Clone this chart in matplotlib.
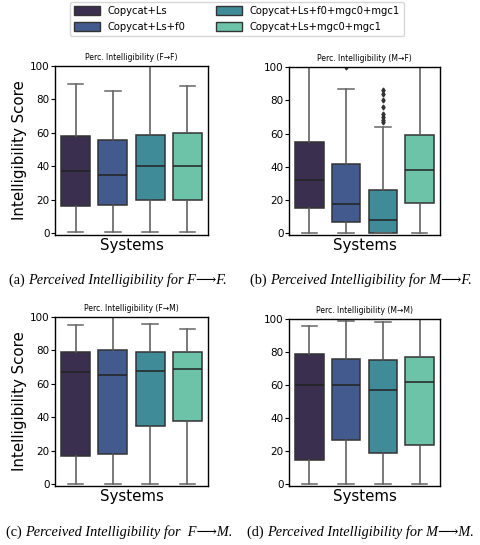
import matplotlib
matplotlib.use("Agg")
from matplotlib import pyplot as plt
from matplotlib.patches import Patch

systems = ["Copycat+Ls", "Copycat+Ls+f0", "Copycat+Ls+f0+mgc0+mgc1", "Copycat+Ls+mgc0+mgc1"]
colors = ["#3b2f4f", "#425a8e", "#3f8b98", "#6cc3a7"]

titles = ["Perc. Intelligibility (F\u2192F)", "Perc. Intelligibility (M\u2192F)",
          "Perc. Intelligibility (F\u2192M)", "Perc. Intelligibility (M\u2192M)"]
captions = ["Perceived Intelligibility for F\u27f6F.", "Perceived Intelligibility for M\u27f6F.",
            "Perceived Intelligibility for  F\u27f6M.", "Perceived Intelligibility for M\u27f6M."]
tags = ["(a)", "(b)", "(c)", "(d)"]

# per panel: whislo, q1, med, q3, whishi for each system
ff = [[0.5, 16.5, 37.5, 58, 89], [0.5, 17, 35, 56, 85], [0.5, 20, 40, 59, 100], [0.5, 20, 40, 60, 88]]
mf = [[0, 15, 32, 55, 100], [0, 7, 17.5, 41.5, 87], [0, 0, 8, 26, 64], [0, 18.5, 38, 59, 100]]
fm = [[0, 17, 67, 79, 95], [0, 18, 65.5, 80, 100], [0, 35, 68, 79, 96], [0, 38, 69, 79, 93]]
mm = [[0, 15, 60, 79, 96], [0, 27, 60, 76, 99], [0, 19, 57, 75, 98], [0, 24, 62, 77, 100]]
mf_fliers = [[], [100], [67, 68, 70, 72, 76, 80, 84, 86], []]
panels = [ff, mf, fm, mm]
fliers = [[[], [], [], []], mf_fliers, [[], [], [], []], [[], [], [], []]]

fig = plt.figure(figsize=(4.81, 5.45), dpi=100)
W, H = 481, 545
# axes rects in pixels: left, top, right, bottom
rects = [(55, 66, 208, 235), (289, 67, 440, 235), (55, 317, 208, 486), (289, 319, 440, 486)]

for i in range(4):
    l, t, r, b = rects[i]
    ax = fig.add_axes([l / W, 1 - b / H, (r - l) / W, (b - t) / H])
    stats = []
    for j, s in enumerate(panels[i]):
        stats.append(dict(whislo=s[0], q1=s[1], med=s[2], q3=s[3], whishi=s[4], fliers=fliers[i][j]))
    bp = ax.bxp(stats, positions=range(4), widths=0.78, capwidths=0.42, patch_artist=True,
                showfliers=True,
                boxprops=dict(edgecolor="#333333", linewidth=1.1),
                medianprops=dict(color="#222222", linewidth=1.1),
                whiskerprops=dict(color="#555555", linewidth=1.1),
                capprops=dict(color="#666666", linewidth=1.1),
                flierprops=dict(marker="d", markersize=2.5, markerfacecolor="#333333",
                                markeredgecolor="#333333"))
    for patch, c in zip(bp["boxes"], colors):
        patch.set_facecolor(c)
    ax.set_xlim(-0.55, 3.55)
    ax.set_ylim(-1, 100)
    ax.set_yticks([0, 20, 40, 60, 80, 100])
    ax.set_xticks([])
    ax.tick_params(axis="y", labelsize=7.5, length=3, pad=1)
    ax.set_xlabel("Systems", fontsize=10.8, labelpad=2)
    if i % 2 == 0:
        ax.set_ylabel("Intelligibility Score", fontsize=10.8, labelpad=2)
    ax.set_title(titles[i], fontsize=5.5, pad=4)
    for sp in ax.spines.values():
        sp.set_linewidth(1.0)

handles = [Patch(facecolor=c, edgecolor="#333333", label=s) for c, s in zip(colors, systems)]
fig.legend(handles=handles, ncol=2, loc="upper center", bbox_to_anchor=(237 / W, 1 + 3 / H),
           fontsize=7.2, handlelength=2.6, handleheight=1.0, columnspacing=3.0,
           frameon=True, edgecolor="#cccccc", borderpad=0.4, labelspacing=0.6)

cap_pos = [(9, 280), (250, 280), (6, 532), (247, 532)]
serif = ["Liberation Serif", "DejaVu Serif"]
for k in range(4):
    x, y = cap_pos[k]
    t = fig.text(x / W, 1 - y / H, tags[k] + " ", fontsize=10.3, family=serif, va="center")
    ann = plt.annotate(captions[k], xy=(1, 0), xycoords=t, va="bottom", ha="left",
                       fontsize=10.3, family=serif, style="italic")
    ann.set_figure(fig)

fig.savefig("out.png", dpi=100)
